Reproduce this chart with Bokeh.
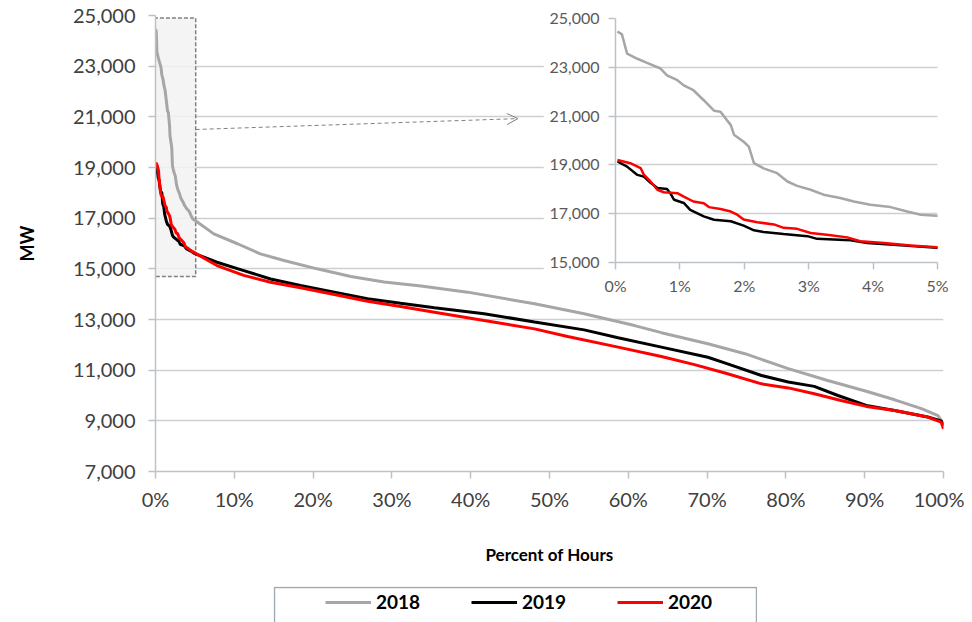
from bokeh.plotting import figure
from bokeh.models import (Range1d, FixedTicker, NumeralTickFormatter, PrintfTickFormatter,
                          Legend, LegendItem, BoxAnnotation, Arrow, OpenHead)
from bokeh.embed import file_html
from bokeh.resources import INLINE

# ---------------- data (percent of hours, MW) ----------------
pct_2018 = [0.03, 0.1, 0.18, 0.34, 0.49, 0.7, 0.8, 0.96, 1.06, 1.21, 1.37, 1.53, 1.63, 1.79, 1.84,
            1.99, 2.07, 2.15, 2.3, 2.51, 2.67, 2.82, 3.03, 3.23, 3.49, 3.7, 3.96, 4.27, 4.53, 4.74,
            4.99, 7.4, 10.4, 13.3, 16.3, 20.5, 24.8, 29.0, 33.7, 39.6, 48.1, 54.4, 60.8, 64.2,
            70.1, 74.8, 80.3, 85.3, 90.2, 93.8, 97.2, 99.3, 100.0]
mw_2018 = [24470, 24350, 23560, 23350, 23180, 22950, 22670, 22470, 22260, 22060, 21650, 21220, 21180,
           20630, 20240, 19950, 19750, 19070, 18860, 18660, 18320, 18140, 17980, 17780, 17640, 17500,
           17370, 17270, 17090, 16960, 16920, 16380, 15990, 15590, 15330, 15000, 14700, 14480, 14320,
           14080, 13620, 13230, 12760, 12480, 12040, 11650, 11060, 10590, 10170, 9830, 9480, 9210, 8880]

pct_2019 = [0.03, 0.18, 0.34, 0.44, 0.54, 0.65, 0.8, 0.85, 0.91, 1.06, 1.16, 1.37, 1.53, 1.79, 1.99,
            2.15, 2.3, 2.61, 2.98, 3.13, 3.65, 3.91, 4.43, 4.99, 7.8, 11.2, 14.6, 18.4, 22.7, 26.9,
            31.1, 35.4, 41.7, 48.1, 54.4, 58.7, 64.2, 70.1, 72.6, 76.9, 80.3, 83.6, 86.6, 90.2, 93.8,
            98.0, 99.7, 100.0]
mw_2019 = [19140, 18930, 18590, 18520, 18280, 18050, 18010, 17840, 17570, 17440, 17160, 16890, 16750,
           16690, 16510, 16320, 16250, 16170, 16080, 15970, 15910, 15800, 15710, 15600, 15260, 14930,
           14600, 14340, 14080, 13820, 13640, 13460, 13230, 12900, 12590, 12280, 11910, 11510, 11250,
           10790, 10530, 10360, 10000, 9610, 9410, 9150, 9000, 8820]

pct_2020 = [0.03, 0.23, 0.39, 0.44, 0.54, 0.65, 0.75, 0.96, 1.06, 1.21, 1.37, 1.45, 1.63, 1.79, 1.89,
            1.99, 2.2, 2.46, 2.61, 2.82, 3.03, 3.28, 3.6, 3.8, 4.17, 4.58, 4.99, 7.8, 11.2, 14.6,
            18.4, 22.7, 26.9, 31.1, 35.4, 41.7, 48.1, 52.3, 58.7, 64.2, 68.4, 72.6, 76.9, 80.3, 83.6,
            87.0, 90.2, 93.8, 98.0, 99.7, 100.0]
mw_2020 = [19200, 19070, 18870, 18600, 18330, 17980, 17880, 17840, 17700, 17500, 17430, 17270, 17190,
           17090, 16960, 16760, 16650, 16560, 16420, 16380, 16210, 16140, 16030, 15870, 15800, 15700,
           15630, 15130, 14740, 14470, 14250, 13990, 13720, 13510, 13290, 12960, 12630, 12330, 11910,
           11540, 11220, 10860, 10460, 10300, 10070, 9800, 9570, 9410, 9150, 8950, 8690]

years = ["2018", "2019", "2020"]
series = [(pct_2018, mw_2018), (pct_2019, mw_2019), (pct_2020, mw_2020)]
colors = ["#a6a6a6", "#000000", "#ff0000"]

main_y_ticks = [7000, 9000, 11000, 13000, 15000, 17000, 19000, 21000, 23000, 25000]
main_x_ticks = [0, 10, 20, 30, 40, 50, 60, 70, 80, 90, 100]
inset_y_ticks = [15000, 17000, 19000, 21000, 23000, 25000]
inset_x_ticks = [0, 1, 2, 3, 4, 5]

# zoom window marker and pointer arrow (data units of the main chart)
zoom_box = [-0.2, 5.1, 14700, 24900]      # left, right, bottom, top
pointer = [5.1, 20500, 46.0, 20930]       # x0, y0, x1, y1

FONT = "Lato"
GRID = "#cbd0d4"
AXIS = "#bcc3c8"

# ---------------- main chart ----------------
p = figure(width=964, height=614, x_range=Range1d(0, 100), y_range=Range1d(7000, 25000),
           output_backend="svg", toolbar_location=None,
           min_border_left=155, min_border_right=21, min_border_top=15, min_border_bottom=143)
p.outline_line_color = None
p.background_fill_color = "white"
p.border_fill_color = "white"

p.add_layout(BoxAnnotation(left=zoom_box[0], right=zoom_box[1], bottom=zoom_box[2], top=zoom_box[3],
                           fill_color="#f2f2f2", fill_alpha=0.85, line_color="#808080",
                           line_alpha=1, line_width=1.5, line_dash="4 2", level="underlay"))

for (xs, ys), c in zip(series, colors):
    p.line(xs, ys, line_color=c, line_width=3)

p.add_layout(Arrow(end=OpenHead(size=11, line_color="#808080", line_width=1),
                   x_start=pointer[0], y_start=pointer[1], x_end=pointer[2], y_end=pointer[3],
                   line_color="#808080", line_width=1, line_dash="4 3"))

p.xgrid.grid_line_color = None
p.ygrid.grid_line_color = GRID
p.ygrid.grid_line_width = 1.5
p.xaxis.ticker = FixedTicker(ticks=main_x_ticks)
p.yaxis.ticker = FixedTicker(ticks=main_y_ticks)
p.xaxis.formatter = PrintfTickFormatter(format="%d%%")
p.yaxis.formatter = NumeralTickFormatter(format="0,0")
for ax in (p.xaxis, p.yaxis):
    ax.axis_line_color = AXIS
    ax.axis_line_width = 1.5
    ax.major_tick_line_color = AXIS
    ax.major_tick_line_width = 1.5
    ax.major_tick_out = 7
    ax.major_tick_in = 0
    ax.minor_tick_line_color = None
    ax.major_label_text_font = FONT
    ax.major_label_text_font_size = "20px"
    ax.major_label_text_color = "#404040"
    ax.axis_label_text_font = FONT
    ax.axis_label_text_font_style = "bold"
    ax.axis_label_text_color = "#000000"
p.yaxis.major_label_standoff = 13
p.xaxis.major_label_standoff = 8
p.yaxis.axis_label = "MW"
p.yaxis.axis_label_text_font_size = "18px"
p.yaxis.axis_label_standoff = 32
p.xaxis.axis_label = "Percent of Hours"
p.xaxis.axis_label_text_font_size = "17px"
p.xaxis.axis_label_standoff = 30

# ---------------- inset (0% - 5%) ----------------
inset = figure(width=412, height=292, x_range=Range1d(0, 5), y_range=Range1d(15000, 25000),
               output_backend="svg", toolbar_location=None,
               min_border_left=72, min_border_right=18, min_border_top=13, min_border_bottom=34,
               styles={"position": "absolute", "left": "543px", "top": "5px"})
inset.outline_line_color = None
inset.background_fill_color = "white"
inset.border_fill_color = "white"
for (xs, ys), c in zip(series, colors):
    inset.line(xs, ys, line_color=c, line_width=2.5)
inset.xgrid.grid_line_color = None
inset.ygrid.grid_line_color = GRID
inset.ygrid.grid_line_width = 1.5
inset.xaxis.ticker = FixedTicker(ticks=inset_x_ticks)
inset.yaxis.ticker = FixedTicker(ticks=inset_y_ticks)
inset.xaxis.formatter = PrintfTickFormatter(format="%d%%")
inset.yaxis.formatter = NumeralTickFormatter(format="0,0")
for ax in (inset.xaxis, inset.yaxis):
    ax.axis_line_color = AXIS
    ax.axis_line_width = 1.5
    ax.major_tick_line_color = AXIS
    ax.major_tick_line_width = 1.5
    ax.major_tick_out = 7
    ax.major_tick_in = 0
    ax.minor_tick_line_color = None
    ax.major_label_text_font = FONT
    ax.major_label_text_font_size = "16px"
    ax.major_label_text_color = "#595959"
inset.yaxis.major_label_standoff = 9
inset.xaxis.major_label_standoff = 6

# ---------------- legend strip below the chart ----------------
# the same three series are drawn here, outside the visible range, only to key the legend
lf = figure(width=484, height=36, x_range=Range1d(0, 1), y_range=Range1d(0, 1),
            x_axis_type=None, y_axis_type=None, output_backend="svg", toolbar_location=None,
            min_border=0, styles={"position": "absolute", "left": "273px", "top": "586px"})
lf.outline_line_color = None
lf.background_fill_color = "white"
lf.border_fill_color = "white"
lf.xgrid.grid_line_color = None
lf.ygrid.grid_line_color = None
lf.add_layout(BoxAnnotation(left=0.002, right=0.998, top=0.97, bottom=-1,
                            fill_color="white", fill_alpha=1, level="underlay",
                            line_color="#9fa9b0", line_alpha=1, line_width=1.5))
proxies = [lf.line(xs, ys, line_color=c, line_width=3) for (xs, ys), c in zip(series, colors)]
legend = Legend(items=[LegendItem(label=y, renderers=[r]) for y, r in zip(years, proxies)],
                orientation="horizontal", location=(52, 9),
                glyph_width=46, glyph_height=20, label_standoff=5, label_width=83, label_height=20,
                spacing=12, padding=0, margin=0,
                label_text_font=FONT, label_text_font_size="19px", label_text_font_style="bold",
                label_text_color="#000000", border_line_color=None,
                background_fill_alpha=0)
lf.add_layout(legend)

open("out.html", "w").write(file_html([p, inset, lf], INLINE))
